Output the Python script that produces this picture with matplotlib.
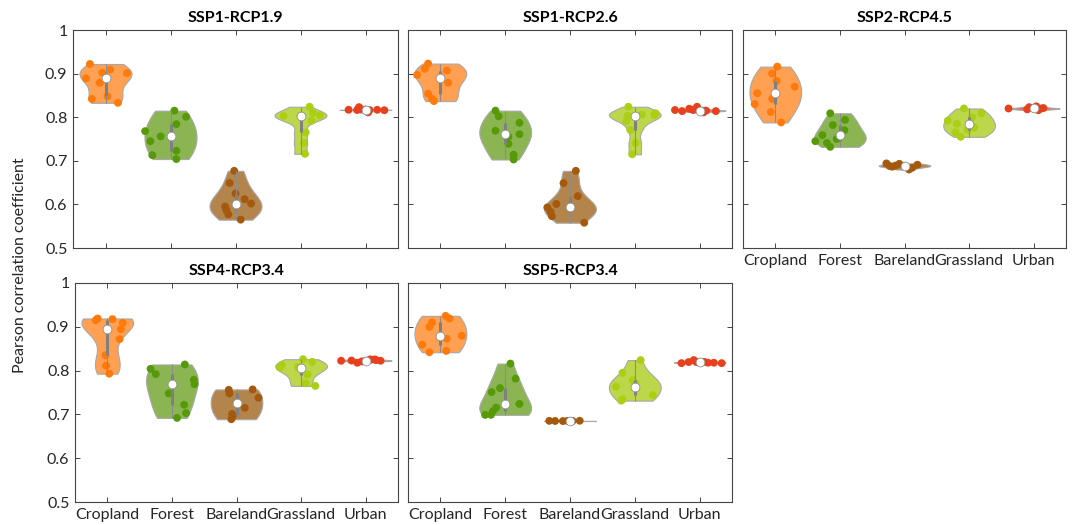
import numpy as np
import matplotlib
matplotlib.use("Agg")
import matplotlib.pyplot as plt

plt.rcParams['font.family'] = ['Lato', 'DejaVu Sans']

categories = ["Cropland", "Forest", "Bareland", "Grassland", "Urban"]
scenarios = ["SSP1-RCP1.9", "SSP1-RCP2.6", "SSP2-RCP4.5", "SSP4-RCP3.4", "SSP5-RCP3.4"]
yticks = [0.5, 0.6, 0.7, 0.8, 0.9, 1.0]
ytick_labels = ["0.5", "0.6", "0.7", "0.8", "0.9", "1"]

# Pearson correlation per model, per land type (Cropland, Forest, Bareland, Grassland, Urban)
ssp119_values = [
    [0.922, 0.889, 0.902, 0.909, 0.879, 0.842, 0.848, 0.833, 0.901],
    [0.815, 0.801, 0.784, 0.768, 0.756, 0.745, 0.723, 0.713, 0.704],
    [0.677, 0.649, 0.625, 0.612, 0.602, 0.595, 0.587, 0.577, 0.565],
    [0.824, 0.803, 0.810, 0.804, 0.792, 0.765, 0.741, 0.716, 0.803],
    [0.817, 0.8165, 0.823, 0.819, 0.811, 0.8165, 0.817, 0.816, 0.8175],
]
ssp119_jitter = [
    [-0.24, -0.30, -0.05, 0.07, -0.09, -0.21, 0.03, 0.19, 0.33],
    [0.06, 0.24, 0.09, -0.39, -0.15, -0.31, 0.09, -0.28, 0.09],
    [-0.02, -0.09, 0.00, 0.14, 0.24, -0.16, -0.14, -0.11, 0.08],
    [0.14, -0.26, 0.19, 0.30, 0.17, 0.08, 0.05, 0.07, 0.00],
    [-0.26, -0.13, -0.10, -0.08, 0.04, 0.06, 0.18, 0.29, 0.00],
]

ssp126_values = [
    [0.923, 0.911, 0.897, 0.907, 0.879, 0.854, 0.837, 0.842, 0.891],
    [0.815, 0.802, 0.769, 0.787, 0.761, 0.755, 0.739, 0.714, 0.703],
    [0.677, 0.649, 0.619, 0.601, 0.593, 0.583, 0.573, 0.558, 0.593],
    [0.824, 0.803, 0.806, 0.791, 0.809, 0.805, 0.771, 0.741, 0.715],
    [0.8165, 0.814, 0.8195, 0.8165, 0.824, 0.811, 0.815, 0.814, 0.815],
]
ssp126_jitter = [
    [-0.19, -0.24, -0.36, 0.10, 0.12, -0.19, -0.10, -0.13, 0.00],
    [-0.15, -0.10, -0.15, 0.22, 0.22, 0.05, 0.05, 0.13, 0.13],
    [0.09, -0.10, 0.12, -0.21, -0.35, -0.30, -0.28, 0.22, 0.00],
    [-0.10, -0.11, 0.11, -0.13, 0.32, 0.30, -0.07, 0.01, -0.04],
    [-0.38, -0.27, -0.16, -0.10, -0.04, 0.06, 0.10, 0.25, 0.00],
]

ssp245_values = [
    [0.916, 0.900, 0.883, 0.870, 0.855, 0.830, 0.842, 0.812, 0.788],
    [0.809, 0.794, 0.782, 0.770, 0.759, 0.745, 0.750, 0.741, 0.732],
    [0.694, 0.6865, 0.689, 0.693, 0.680, 0.691, 0.688, 0.688, 0.684],
    [0.820, 0.809, 0.800, 0.792, 0.785, 0.776, 0.771, 0.765, 0.755],
    [0.820, 0.818, 0.823, 0.825, 0.816, 0.820, 0.821, 0.8195],
]
ssp245_jitter = [
    [0.03, -0.05, 0.02, 0.30, -0.28, -0.32, -0.05, -0.07, 0.09],
    [-0.15, 0.08, -0.11, 0.07, -0.27, -0.38, -0.05, -0.20, -0.15],
    [-0.28, -0.19, -0.14, -0.08, 0.07, 0.20, 0.00, -0.23, 0.12],
    [-0.08, 0.19, 0.05, -0.33, -0.19, 0.08, -0.02, -0.21, -0.13],
    [-0.39, -0.10, -0.07, 0.04, 0.07, 0.12, 0.15, 0.00],
]

ssp434_values = [
    [0.919, 0.915, 0.9175, 0.909, 0.8947, 0.872, 0.835, 0.811, 0.793],
    [0.814, 0.804, 0.792, 0.779, 0.769, 0.748, 0.722, 0.703, 0.692],
    [0.756, 0.748, 0.757, 0.738, 0.715, 0.701, 0.689, 0.695],
    [0.826, 0.820, 0.813, 0.807, 0.808, 0.791, 0.771, 0.765, 0.804],
    [0.8225, 0.823, 0.818, 0.821, 0.8256, 0.8256, 0.824, 0.8225, 0.8225],
]
ssp434_jitter = [
    [-0.15, -0.18, 0.08, 0.24, 0.21, 0.19, -0.03, -0.02, 0.03],
    [0.20, -0.33, -0.25, 0.34, 0.35, -0.05, 0.19, 0.22, 0.08],
    [-0.12, -0.11, 0.25, 0.34, 0.13, -0.07, -0.08, -0.06],
    [0.03, 0.17, -0.30, -0.33, -0.05, 0.10, 0.07, 0.22, 0.00],
    [-0.38, -0.22, -0.13, -0.06, 0.07, 0.14, 0.16, 0.23, 0.00],
]

ssp534_values = [
    [0.925, 0.919, 0.910, 0.900, 0.8727, 0.8795, 0.859, 0.842, 0.845],
    [0.816, 0.7815, 0.760, 0.751, 0.724, 0.7155, 0.707, 0.699, 0.699],
    [0.6853, 0.6850, 0.6848, 0.6852, 0.6851, 0.6855, 0.6849, 0.6850],
    [0.824, 0.795, 0.778, 0.763, 0.744, 0.7315, 0.7345, 0.771, 0.763],
    [0.817, 0.8195, 0.824, 0.8195, 0.820, 0.818, 0.818, 0.817, 0.8195],
]
ssp534_jitter = [
    [0.08, 0.14, -0.13, -0.17, 0.10, 0.33, -0.28, -0.17, 0.09],
    [0.08, 0.16, -0.08, -0.21, 0.22, -0.14, -0.19, -0.22, -0.31],
    [-0.32, -0.23, -0.11, -0.04, 0.04, 0.15, 0.00, 0.00],
    [0.09, -0.19, -0.03, -0.29, 0.28, -0.21, -0.19, 0.01, 0.00],
    [-0.28, -0.17, -0.09, -0.05, 0.07, 0.13, 0.22, 0.34, 0.00],
]

all_values = [ssp119_values, ssp126_values, ssp245_values, ssp434_values, ssp534_values]
all_jitter = [ssp119_jitter, ssp126_jitter, ssp245_jitter, ssp434_jitter, ssp534_jitter]

fill_colors = ["#FFA052", "#8BB552", "#B3854D", "#BDD74B", "#EE6A50"]
point_colors = ["#FF7A0A", "#569A08", "#A5590C", "#ABCF12", "#E8401C"]

VIOLIN_W = 0.4
AX_COLOR = "#262626"
FS = 11.5


def violin_shape(data, n=200):
    d = np.asarray(data, dtype=float)
    N = len(d)
    med = np.median(d)
    sig = np.median(np.abs(d - med)) / 0.6745
    if sig <= 0:
        sig = d.max() - d.min()
    bw = sig * (4.0 / (3.0 * N)) ** 0.2
    ys = np.linspace(d.min(), d.max(), n)
    dens = np.exp(-0.5 * ((ys[:, None] - d[None, :]) / bw) ** 2).sum(axis=1)
    return ys, dens / dens.max()


fig = plt.figure(figsize=(10.72, 5.25), dpi=100)
W, H = 1072.0, 525.0
# pixel boxes (left, top, right, bottom)
boxes = [
    (73, 30, 398, 248),
    (408, 30, 732, 248),
    (743, 30, 1066, 248),
    (75, 283, 398, 502),
    (408, 283, 732, 502),
]
show_x = [False, False, True, True, True]
show_y = [True, False, False, True, False]

for k, (l, t, r, b) in enumerate(boxes):
    ax = fig.add_axes([l / W, 1 - b / H, (r - l) / W, (b - t) / H])
    vals = all_values[k]
    jits = all_jitter[k]
    for i, (d, j) in enumerate(zip(vals, jits)):
        pos = i + 1
        d = np.asarray(d)
        ys, dens = violin_shape(d)
        ax.fill_betweenx(ys, pos - VIOLIN_W * dens, pos + VIOLIN_W * dens,
                         facecolor=fill_colors[i], edgecolor="#A8A8A8",
                         linewidth=0.8, zorder=1)
        ax.scatter(pos + np.asarray(j), d, s=32, color=point_colors[i],
                   edgecolors="none", zorder=3)
        q1, q3 = np.percentile(d, [25, 75])
        ax.plot([pos, pos], [d.min(), d.max()], color="#8C8C8C", lw=0.8,
                zorder=4, solid_capstyle="butt")
        ax.plot([pos, pos], [q1, q3], color="#808080", lw=2.2, zorder=4,
                solid_capstyle="butt")
        ax.scatter([pos], [np.median(d)], s=40, color="white",
                   edgecolors="#909090", linewidths=0.6, zorder=5)
    ax.set_xlim(0.5, 5.5)
    ax.set_ylim(0.5, 1.0)
    ax.set_yticks(yticks)
    ax.set_xticks(range(1, 6))
    if show_y[k]:
        ax.set_yticklabels(ytick_labels)
    else:
        ax.set_yticklabels([])
    if show_x[k]:
        ax.set_xticklabels(categories)
    else:
        ax.set_xticklabels([])
    ax.tick_params(direction="in", top=True, right=True, length=3.5,
                   width=0.6, color=AX_COLOR, labelcolor=AX_COLOR,
                   labelsize=FS, pad=4)
    for sp in ax.spines.values():
        sp.set_color("#444444")
        sp.set_linewidth(0.8)
    ax.set_title(scenarios[k], fontsize=11.5, fontweight="bold", pad=6,
                 color="black")

fig.text(0.019, 0.495, "Pearson correlation coefficient", rotation=90,
         va="center", ha="center", fontsize=FS, color=AX_COLOR)

fig.savefig("out.png", dpi=100)
